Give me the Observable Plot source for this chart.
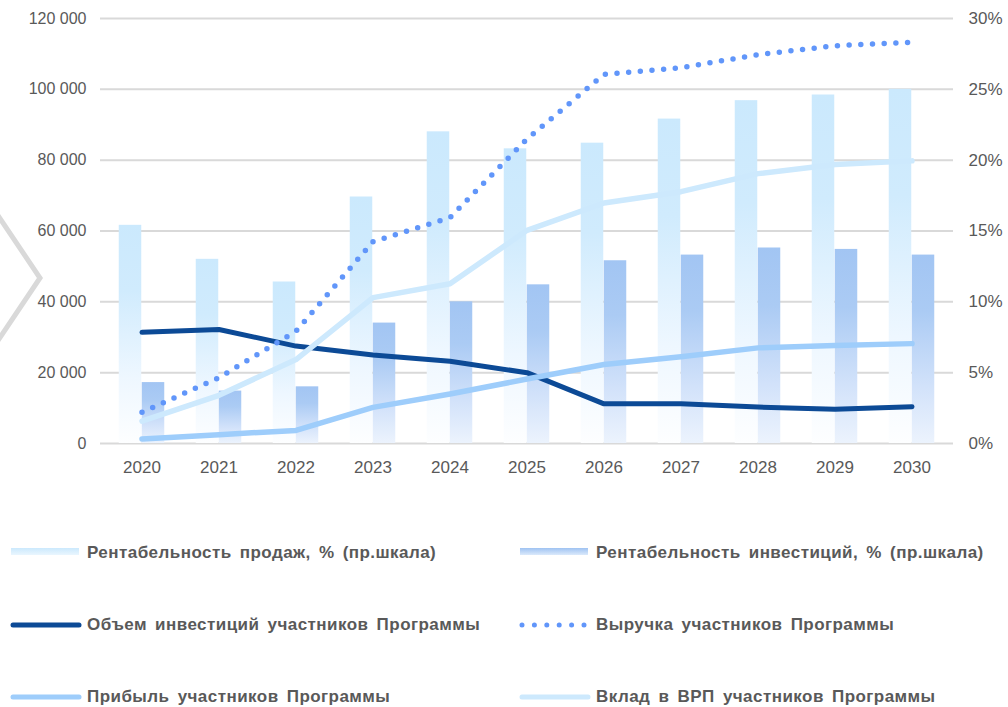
<!DOCTYPE html>
<html>
<head>
<meta charset="utf-8">
<script src="https://cdn.jsdelivr.net/npm/d3@7"></script>
<script src="https://cdn.jsdelivr.net/npm/@observablehq/plot@0.6"></script>
<style>
  html, body { margin: 0; padding: 0; background: #fff; }
  #wrap { position: relative; width: 1008px; height: 707px; overflow: hidden; font-family: "Liberation Sans", Arial, sans-serif; }
  #chevron { position: absolute; left: 0; top: 0; z-index: 0; }
  #chart { position: absolute; left: 0; top: 0; z-index: 1; }
  .leg { position: absolute; display: flex; align-items: center; font-weight: bold; font-size: 17px; letter-spacing: 0.45px; word-spacing: 3px; color: #595959; white-space: nowrap; }
  .leg svg { margin-right: 5px; }
</style>
</head>
<body>
<div id="wrap">
  <svg id="chevron" width="60" height="480"><polyline points="-3,214 40,278 -3,342" fill="none" stroke="#d9d9d9" stroke-width="5"/></svg>
  <div id="chart"></div>
  <div id="legend"></div>
</div>
<script>
// ---- data ----
const years = ["2020","2021","2022","2023","2024","2025","2026","2027","2028","2029","2030"];
// right scale, %
const salesMargin  = [15.4, 13.0, 11.4, 17.4, 22.0, 20.8, 21.2, 22.9, 24.2, 24.6, 25.0];
const investMargin = [4.3, 3.7, 4.0, 8.5, 10.0, 11.2, 12.9, 13.3, 13.8, 13.7, 13.3];
// left scale
const investments = [31400, 32200, 27500, 25000, 23200, 20000, 11200, 11200, 10300, 9700, 10400];
const revenue     = [8800, 18600, 31700, 57000, 63800, 86000, 104200, 106100, 109800, 112300, 113300];
const profit      = [1300, 2500, 3700, 10200, 14000, 18200, 22300, 24500, 27000, 27700, 28200];
const grp         = [6300, 13600, 23700, 41200, 45100, 60200, 67900, 71100, 76200, 78800, 79800];
const leftTicks  = [0, 20000, 40000, 60000, 80000, 100000, 120000];
const rightTicks = [0, 5, 10, 15, 20, 25, 30];
const seriesNames = [
  "Рентабельность продаж, % (пр.шкала)",
  "Рентабельность инвестиций, % (пр.шкала)",
  "Объем инвестиций участников Программы",
  "Выручка участников Программы",
  "Прибыль участников Программы",
  "Вклад в ВРП участников Программы"
];

const PCT = 120000 / 30; // right-axis % → left-axis units
const rows = years.map((year, i) => ({
  year,
  sales: salesMargin[i], invest: investMargin[i],
  investments: investments[i], revenue: revenue[i], profit: profit[i], grp: grp[i]
}));

const colors = {
  sales: "#cceafd", invest: "#a3c6f3", investments: "#0c4a96",
  revenue: "#6196fa", profit: "#9ecdfb", grp: "#cde9fd", grid: "#d9d9d9", text: "#595959"
};

function defs() {
  const d = d3.create("svg:defs");
  const g1 = d.append("linearGradient").attr("id", "gSales").attr("x1", 0).attr("y1", 0).attr("x2", 0).attr("y2", 1);
  [[0, "#cbe9fd"], [0.3, "#d0ebfd"], [0.7, "#eef7ff"], [1, "#fdfeff"]].forEach(([o, c]) => g1.append("stop").attr("offset", o).attr("stop-color", c));
  const g2 = d.append("linearGradient").attr("id", "gInvest").attr("x1", 0).attr("y1", 0).attr("x2", 0).attr("y2", 1);
  [[0, "#a2c5f3"], [0.3, "#abcbf4"], [0.7, "#d2e2fa"], [1, "#ecf3fd"]].forEach(([o, c]) => g2.append("stop").attr("offset", o).attr("stop-color", c));
  return d.node();
}

const fmt = d => d3.format(",")(d).replace(/,/g, " ");
const half = 38.75, bw = 23;

const chart = Plot.plot({
  width: 1008, height: 480,
  marginTop: 18, marginBottom: 37, marginLeft: 100, marginRight: 55,
  x: { type: "band", domain: years, padding: 0, label: null },
  y: { domain: [0, 120000], label: null },
  style: { fontFamily: "'Liberation Sans', Arial, sans-serif", fontSize: "16px", color: colors.text, background: "transparent" },
  marks: [
    defs,
    Plot.ruleY(leftTicks, { stroke: colors.grid, strokeWidth: 2, strokeOpacity: 1 }),
    Plot.barY(rows, { x: "year", y: d => d.sales * PCT, fill: "url(#gSales)", insetLeft: half - bw, insetRight: half }),
    Plot.barY(rows, { x: "year", y: d => d.invest * PCT, fill: "url(#gInvest)", insetLeft: half, insetRight: half - bw }),
    Plot.line(rows, { x: "year", y: "investments", stroke: colors.investments, strokeWidth: 5, strokeLinecap: "round", strokeLinejoin: "round" }),
    Plot.line(rows, { x: "year", y: "revenue", stroke: colors.revenue, strokeWidth: 5.5, strokeLinecap: "round", strokeDasharray: "0,11.7" }),
    Plot.line(rows, { x: "year", y: "profit", stroke: colors.profit, strokeWidth: 5.5, strokeLinecap: "round", strokeLinejoin: "round" }),
    Plot.line(rows, { x: "year", y: "grp", stroke: colors.grp, strokeWidth: 5.5, strokeLinecap: "round", strokeLinejoin: "round" }),
    Plot.axisY({ ticks: leftTicks, tickSize: 0, tickPadding: 14, tickFormat: fmt, label: null, fontSize: 16 }),
    Plot.axisY({ anchor: "right", ticks: rightTicks.map(v => v * PCT), tickSize: 0, tickPadding: 15, tickFormat: d => (d / PCT) + "%", label: null, fontSize: 17 }),
    Plot.axisX({ tickSize: 0, tickPadding: 17, label: null, fontSize: 17 })
  ]
});
document.getElementById("chart").append(chart);

// ---- legend ----
const legend = d3.select("#legend");
const items = [
  { name: seriesNames[0], x: 10, y: 553, kind: "rect", grad: ["#cbe9fd", "#eaf6fe"] },
  { name: seriesNames[1], x: 519, y: 553, kind: "rect", grad: ["#9fc3f2", "#dbe9fb"] },
  { name: seriesNames[2], x: 10, y: 625, kind: "line", color: colors.investments },
  { name: seriesNames[3], x: 519, y: 625, kind: "dots", color: colors.revenue },
  { name: seriesNames[4], x: 10, y: 697, kind: "line", color: colors.profit },
  { name: seriesNames[5], x: 519, y: 697, kind: "line", color: colors.grp }
];
items.forEach((it, i) => {
  const div = legend.append("div").attr("class", "leg").style("left", it.x + "px").style("top", (it.y - 12) + "px").style("height", "24px");
  const s = div.append("svg").attr("width", 72).attr("height", 14);
  if (it.kind === "rect") {
    const lg = s.append("defs").append("linearGradient").attr("id", "lg" + i).attr("x1", 0).attr("y1", 0).attr("x2", 0).attr("y2", 1);
    lg.append("stop").attr("offset", 0).attr("stop-color", it.grad[0]);
    lg.append("stop").attr("offset", 1).attr("stop-color", it.grad[1]);
    s.append("rect").attr("x", 1).attr("y", 2).attr("width", 68).attr("height", 7).attr("fill", `url(#lg${i})`);
  } else if (it.kind === "line") {
    s.append("line").attr("x1", 3).attr("x2", 69).attr("y1", 7).attr("y2", 7).attr("stroke", it.color).attr("stroke-width", 5).attr("stroke-linecap", "round");
  } else {
    s.append("line").attr("x1", 3).attr("x2", 69).attr("y1", 7).attr("y2", 7).attr("stroke", it.color).attr("stroke-width", 5).attr("stroke-linecap", "round").attr("stroke-dasharray", "0,12.4");
  }
  div.append("span").text(it.name);
});
</script>
</body>
</html>
